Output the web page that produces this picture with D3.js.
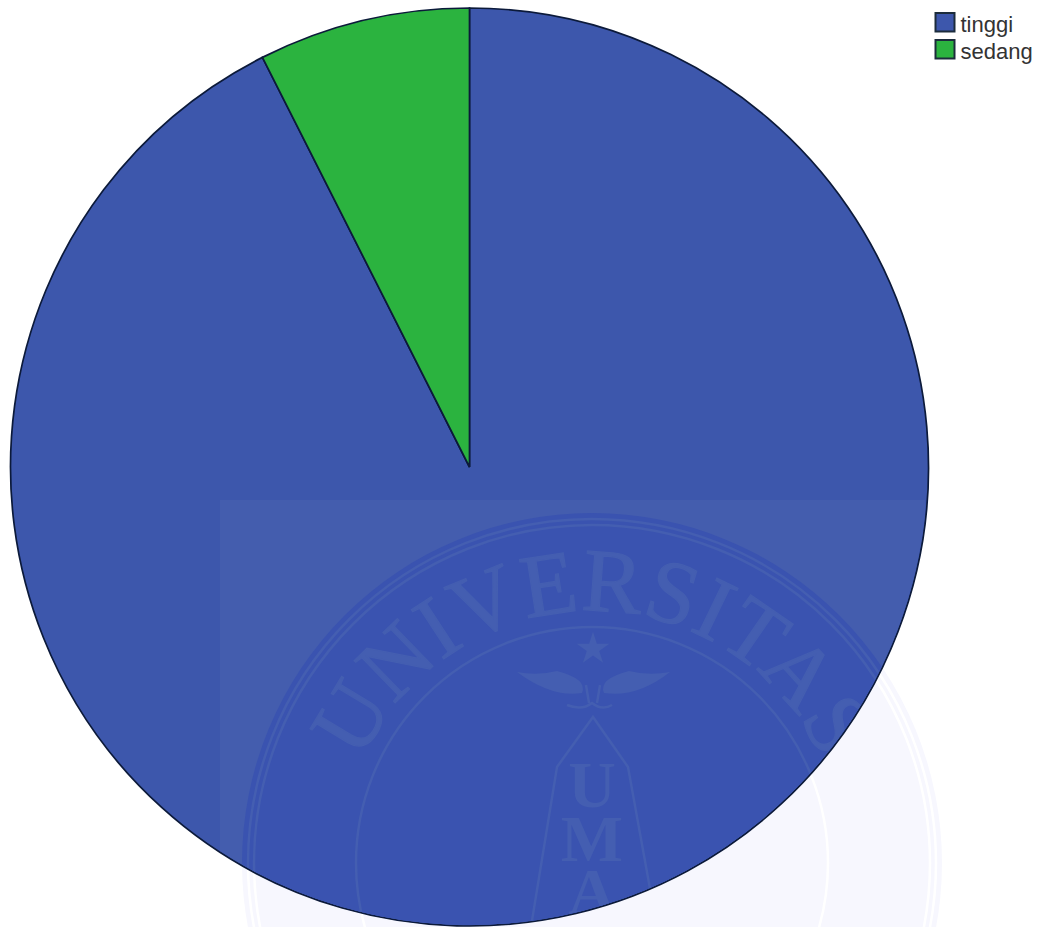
<!DOCTYPE html>
<html>
<head>
<meta charset="utf-8">
<script src="https://cdn.jsdelivr.net/npm/d3@7"></script>
<style>
  html, body { margin: 0; padding: 0; background: #fff; }
  svg { display: block; }
</style>
</head>
<body>
<div id="chart"></div>
<script>
var categories = ["tinggi", "sedang"]
var values = [92.55, 7.45]
var colors = ["#3d57ac", "#2bb33f"]

var width = 1040, height = 927
var cx = 469.5, cy = 467, radius = 459

var svg = d3.select("#chart").append("svg")
  .attr("width", width)
  .attr("height", height)

var pie = d3.pie().sort(null)
var arc = d3.arc().innerRadius(0).outerRadius(radius)
var color = d3.scaleOrdinal().domain(categories).range(colors)

svg.append("clipPath")
  .attr("id", "pieclip")
  .append("circle")
  .attr("cx", cx).attr("cy", cy).attr("r", radius - 1)

// seal of the watermark, the part that lies on white paper
var sealX = 592, sealY = 863
var paper = svg.append("g").attr("transform", "translate(" + sealX + "," + sealY + ")")

paper.append("circle").attr("r", 350).attr("fill", "#f7f7fe")
paper.selectAll("circle.ring")
  .data([344, 338, 236])
  .enter()
  .append("circle")
  .attr("class", "ring")
  .attr("r", function(d) { return d })
  .attr("fill", "none")
  .attr("stroke", "#fff")
  .attr("stroke-width", 2.5)

var slices = svg.append("g")
  .attr("transform", "translate(" + cx + "," + cy + ")")
  .selectAll("path")
  .data(pie(values))
  .enter()
  .append("path")
  .attr("d", arc)
  .attr("fill", function(d, i) { return color(categories[i]) })
  .attr("stroke", "#0c1a3a")
  .attr("stroke-width", 1.7)

// watermark on top of the pie
var light = "#445eb1"
var mark = svg.append("g")
  .attr("clip-path", "url(#pieclip)")

mark.append("rect")
  .attr("x", 220).attr("y", 500)
  .attr("width", 705).attr("height", 427)
  .attr("fill", "#445dae")

var seal = mark.append("g").attr("transform", "translate(" + sealX + "," + sealY + ")")

seal.append("circle").attr("r", 350).attr("fill", "#3a53b0")

seal.selectAll("circle.ring")
  .data([344, 338, 236])
  .enter()
  .append("circle")
  .attr("class", "ring")
  .attr("r", function(d) { return d })
  .attr("fill", "none")
  .attr("stroke", light)
  .attr("stroke-width", 2.5)

seal.append("path")
  .attr("id", "sealtext")
  .attr("fill", "none")
  .attr("d", "M-252,0A252,252 0 0 1 252,0")

seal.append("text")
  .attr("font-family", "Liberation Serif")
  .attr("font-size", 90)
  .attr("fill", light)
  .attr("stroke", light)
  .attr("stroke-width", 1.2)
  .append("textPath")
  .attr("href", "#sealtext")
  .attr("startOffset", "50%")
  .attr("text-anchor", "middle")
  .text("UNIVERSITAS")

seal.append("path")
  .attr("d", d3.symbol().type(d3.symbolStar).size(330)())
  .attr("transform", "translate(1,-214)")
  .attr("fill", light)

// wings, body and tail of the bird
seal.append("path")
  .attr("d", "M-75,-191Q-40,-165 -10,-170Q-4,-184 -35,-192Q-55,-187 -75,-191Z"
    + "M78,-191Q45,-165 12,-170Q6,-184 37,-192Q57,-187 78,-191Z")
  .attr("fill", light)
seal.append("path")
  .attr("d", "M-6,-178L-3,-160M8,-178L5,-160M-25,-158Q-10,-152 0,-160Q10,-152 20,-158")
  .attr("fill", "none")
  .attr("stroke", light)
  .attr("stroke-width", 2.5)

// pencil outline round the letters
seal.append("path")
  .attr("d", "M-62,70L-35,-96L1,-146L36,-96L66,70")
  .attr("fill", "none")
  .attr("stroke", light)
  .attr("stroke-width", 2.5)

seal.selectAll("text.uma")
  .data(["U", "M", "A"])
  .enter()
  .append("text")
  .attr("class", "uma")
  .attr("text-anchor", "middle")
  .attr("y", function(d, i) { return -56 + i * 53.5 })
  .attr("font-family", "Liberation Serif")
  .attr("font-weight", "bold")
  .attr("font-size", 66)
  .attr("fill", light)
  .text(function(d) { return d })

// legend
var legend = svg.append("g")
  .selectAll("g")
  .data(categories)
  .enter()
  .append("g")
  .attr("transform", function(d, i) { return "translate(935.5," + (13 + i * 27) + ")" })

legend.append("rect")
  .attr("width", 19)
  .attr("height", 18.5)
  .attr("fill", function(d) { return color(d) })
  .attr("stroke", "#1c2c3c")
  .attr("stroke-width", 2)

legend.append("text")
  .attr("x", 25)
  .attr("y", 19)
  .attr("font-family", "Liberation Sans")
  .attr("font-size", 22)
  .attr("fill", "#333")
  .text(function(d) { return d })
</script>
</body>
</html>
